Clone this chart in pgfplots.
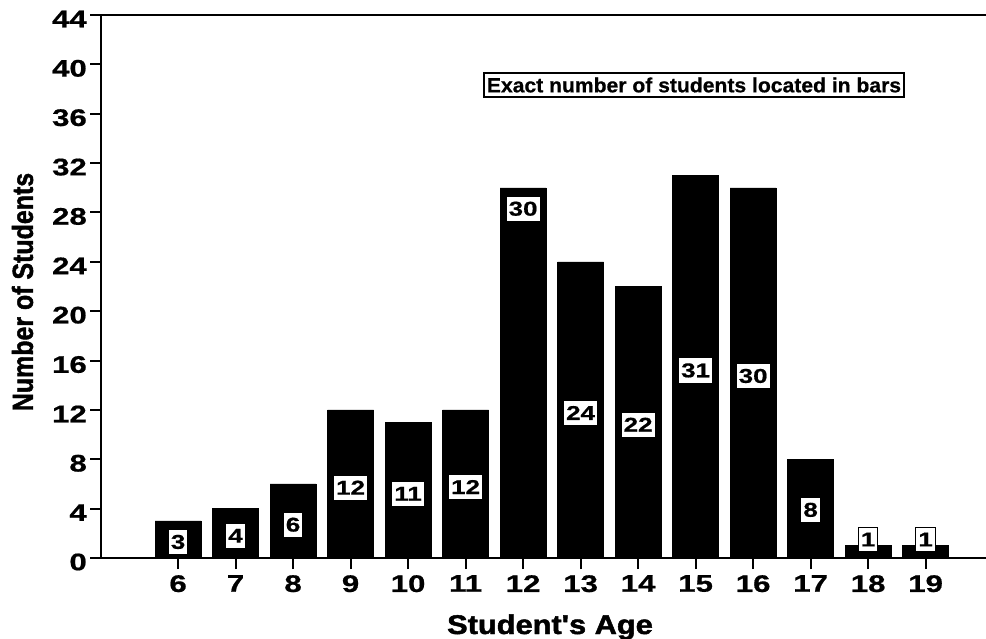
\documentclass[border=0pt]{standalone}
\usepackage{pgfplots}
\pgfplotsset{compat=1.18}
\usepackage{pgfplotstable}
\usepackage{graphicx}
\usepackage{fontspec}
\setmainfont{Liberation Sans}
\newfontfamily\heavy{Liberation Sans Bold}[FakeBold=1.6]
\newfontfamily\semiheavy{Liberation Sans Bold}[FakeBold=0.6]
\newcommand\tl[1]{\scalebox{1.3}[1]{\semiheavy #1}}

\pgfplotstableread{
age count
6 3
7 4
8 6
9 12
10 11
11 12
12 30
13 24
14 22
15 31
16 30
17 8
18 1
19 1
}\bars

\pgfplotstableread{
age ypos lab
6 1.3 3
7 1.8 4
8 2.7 6
9 5.7 12
10 5.2 11
11 5.75 12
12 28.3 30
13 11.75 24
14 10.8 22
15 15.2 31
16 14.75 30
17 3.9 8
18 1.5 1
19 1.5 1
}\labs

\begin{document}
\begin{tikzpicture}
\path[use as bounding box] (0,0) rectangle (986pt,638pt);
\begin{axis}[
  at={(101pt,80pt)}, anchor=south west,
  scale only axis, width=885pt, height=543pt,
  xmin=4.66, xmax=20.05, ymin=0, ymax=44,
  axis x line*=bottom, axis y line*=left,
  axis line style={-, line width=2pt, black},
  xtick={6,7,...,19},
  xticklabels={\tl{6},\tl{7},\tl{8},\tl{9},\tl{10},\tl{11},\tl{12},\tl{13},\tl{14},\tl{15},\tl{16},\tl{17},\tl{18},\tl{19}},
  ytick={0,4,...,44},
  yticklabels={\tl{0},\tl{4},\tl{8},\tl{12},\tl{16},\tl{20},\tl{24},\tl{28},\tl{32},\tl{36},\tl{40},\tl{44}},
  tick align=outside, major tick length=11pt,
  tick style={line width=2pt, black},
  ticklabel style={font=\fontsize{24}{24}\selectfont},
  xticklabel style={anchor=north, inner sep=1pt, yshift=-5pt},
  yticklabel style={anchor=east, inner sep=3pt, yshift=-4pt},
]
\addplot[ybar, bar width=0.8, fill=black, draw=black] table[x=age, y=count] {\bars};
\addplot[only marks, mark=*, mark size=0pt, mark options={draw=none, fill=none},
  point meta=explicit symbolic,
  nodes near coords={\scalebox{1.3}[1]{\semiheavy\pgfplotspointmeta}},
  every node near coord/.append style={anchor=center, fill=white, draw=black,
    line width=1pt, inner xsep=2.5pt, inner ysep=5.5pt, font=\fontsize{20}{20}\selectfont}]
  table[x=age, y=ypos, meta=lab] {\labs};
\draw[line width=2pt] (rel axis cs:0,1) -- (rel axis cs:1,1);
\end{axis}
\node[rotate=90, anchor=center, font=\fontsize{29}{29}\selectfont\heavy] at (22.5pt,346pt) {\scalebox{0.86}[1]{Number of Students}};
\node[anchor=base, inner sep=0pt, font=\fontsize{27}{27}\selectfont\heavy] at (550pt,4pt) {\scalebox{1.14}[1]{Student's Age}};
\node[anchor=center, draw=black, line width=1.5pt, fill=white, inner xsep=3pt, inner ysep=4.5pt, font=\fontsize{20.5}{20.5}\selectfont\semiheavy] at (694pt,553pt) {\scalebox{1.03}[1]{Exact number of students located in bars}};
\end{tikzpicture}
\end{document}
